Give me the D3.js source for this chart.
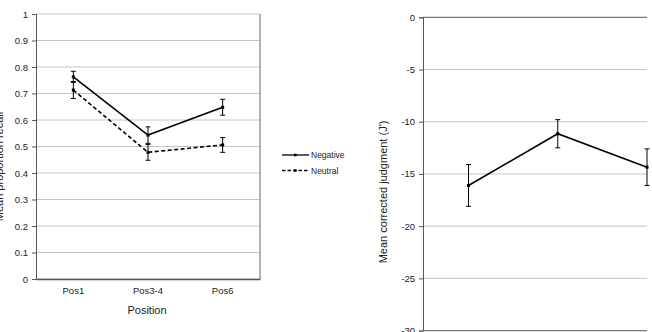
<html>
<head><meta charset="utf-8"></head>
<body style="margin:0">
<svg width="652" height="332"></svg>
<style>
  body { background: #fff; }
  text { font-family: "Liberation Sans", Arial, sans-serif; fill: #222; }
  .tick line { stroke: #555; }
  .domain { stroke: #555; }
</style>
<script src="https://d3js.org/d3.v7.min.js"></script>
<script>
// data
var positions = ["Pos1", "Pos3-4", "Pos6"];
var negative = [0.763, 0.543, 0.648];
var negativeErr = [0.021, 0.031, 0.030];
var neutral = [0.713, 0.478, 0.506];
var neutralErr = [0.032, 0.030, 0.028];
var judgment = [-16.1, -11.15, -14.35];
var judgmentErr = [2.0, 1.35, 1.75];
var recallTicks = [0, 0.1, 0.2, 0.3, 0.4, 0.5, 0.6, 0.7, 0.8, 0.9, 1];
var judgTicks = [0, -5, -10, -15, -20, -25, -30];

var svg = d3.select("svg");

function drawSeries(g, x, y, vals, errs, dash) {
  var pts = vals.map(function (v, i) { return { c: positions[i], v: v, e: errs[i] }; });
  var line = d3.line()
    .x(function (d) { return x(d.c); })
    .y(function (d) { return y(d.v); });
  g.append("path")
    .datum(pts)
    .attr("fill", "none")
    .attr("stroke", "#000")
    .attr("stroke-width", 1.6)
    .attr("stroke-dasharray", dash ? "4,2.5" : null)
    .attr("d", line);
  var eb = g.selectAll(null).data(pts).enter().append("g");
  eb.append("line")
    .attr("x1", function (d) { return x(d.c); })
    .attr("x2", function (d) { return x(d.c); })
    .attr("y1", function (d) { return y(d.v + d.e); })
    .attr("y2", function (d) { return y(d.v - d.e); })
    .attr("stroke", "#000").attr("stroke-width", 1);
  [1, -1].forEach(function (s) {
    eb.append("line")
      .attr("x1", function (d) { return x(d.c) - 2.5; })
      .attr("x2", function (d) { return x(d.c) + 2.5; })
      .attr("y1", function (d) { return y(d.v + s * d.e); })
      .attr("y2", function (d) { return y(d.v + s * d.e); })
      .attr("stroke", "#000").attr("stroke-width", 1);
  });
  eb.append("rect")
    .attr("x", function (d) { return x(d.c) - 1.5; })
    .attr("y", function (d) { return y(d.v) - 1.5; })
    .attr("width", 3).attr("height", 3)
    .attr("fill", "#000");
}

// plain hyphen minus, like the original
var fmt = function (d) { return String(d); };

// ---- left chart: recall ----
var m1 = { left: 36, top: 14 }, w1 = 224, h1 = 265;
var g1 = svg.append("g").attr("transform", "translate(" + m1.left + "," + m1.top + ")");

var x1 = d3.scaleBand().domain(positions).range([0, w1]);
var y1 = d3.scaleLinear().domain([0, 1]).range([h1, 0]);

g1.selectAll(".grid").data(recallTicks).enter().append("line")
  .attr("x1", 0).attr("x2", w1)
  .attr("y1", function (d) { return y1(d); })
  .attr("y2", function (d) { return y1(d); })
  .attr("stroke", "#c4c4c4").attr("stroke-width", 1);
g1.append("line").attr("x1", w1).attr("x2", w1).attr("y1", 0).attr("y2", h1)
  .attr("stroke", "#999").attr("stroke-width", 1.5);

g1.append("g")
  .call(d3.axisLeft(y1).tickValues(recallTicks).tickFormat(fmt).tickSize(4).tickPadding(4))
  .call(function (a) { a.selectAll("text").style("font-size", "9.5px"); a.select(".domain").attr("stroke", "#333"); });

g1.append("g")
  .attr("transform", "translate(0," + h1 + ")")
  .call(d3.axisBottom(x1).tickSize(0).tickPadding(8))
  .call(function (a) {
    a.selectAll("text").style("font-size", "9.5px");
    a.select(".domain").attr("stroke", "#888").attr("stroke-width", 1.5);
  });

g1.append("text")
  .attr("x", w1 / 2 - 1).attr("y", h1 + 35)
  .attr("text-anchor", "middle")
  .style("font-size", "11px")
  .text("Position");

g1.append("text")
  .attr("transform", "translate(" + (-33) + "," + (h1 / 2 + 20) + ") rotate(-90)")
  .attr("text-anchor", "middle")
  .style("font-size", "11px")
  .text("Mean proportion recall");

drawSeries(g1, function (c) { return x1(c) + x1.bandwidth() / 2; }, y1, neutral, neutralErr, true);
drawSeries(g1, function (c) { return x1(c) + x1.bandwidth() / 2; }, y1, negative, negativeErr, false);

// legend
var legend = svg.append("g").attr("transform", "translate(282,155)");
[["Negative", false], ["Neutral", true]].forEach(function (d, i) {
  var row = legend.append("g").attr("transform", "translate(0," + i * 15.5 + ")");
  row.append("line").attr("x1", 0).attr("x2", 27).attr("y1", 0).attr("y2", 0)
    .attr("stroke", "#000").attr("stroke-width", 1.3)
    .attr("stroke-dasharray", d[1] ? "3.5,2" : null);
  row.append("rect").attr("x", 12).attr("y", -1.3).attr("width", 2.6).attr("height", 2.6).attr("fill", "#000");
  row.append("text").attr("x", 29).attr("y", 3).style("font-size", "8.5px").text(d[0]);
});

// ---- right chart: judgment ----
var m2 = { left: 423, top: 17.3 }, w2 = 224, h2 = 313.3;
var g2 = svg.append("g").attr("transform", "translate(" + m2.left + "," + m2.top + ")");

var x2 = d3.scalePoint().domain(positions).range([45.5, w2]);
var y2 = d3.scaleLinear().domain([-30, 0]).range([h2, 0]);

g2.selectAll(".grid").data(judgTicks).enter().append("line")
  .attr("x1", 0).attr("x2", w2)
  .attr("y1", function (d) { return y2(d); })
  .attr("y2", function (d) { return y2(d); })
  .attr("stroke", function (d) { return d === 0 || d === -30 ? "#777" : "#c4c4c4"; })
  .attr("stroke-width", function (d) { return d === 0 || d === -30 ? 1.2 : 1; });

g2.append("g")
  .call(d3.axisLeft(y2).tickValues(judgTicks).tickFormat(fmt).tickSize(4).tickPadding(4))
  .call(function (a) { a.selectAll("text").style("font-size", "9.5px"); a.select(".domain").attr("stroke", "#777"); });

g2.append("text")
  .attr("transform", "translate(" + (-36) + "," + (h2 / 2 + 18) + ") rotate(-90)")
  .attr("text-anchor", "middle")
  .style("font-size", "11px")
  .text("Mean corrected judgment (J')");

drawSeries(g2, x2, y2, judgment, judgmentErr, false);
</script>
</body>
</html>
